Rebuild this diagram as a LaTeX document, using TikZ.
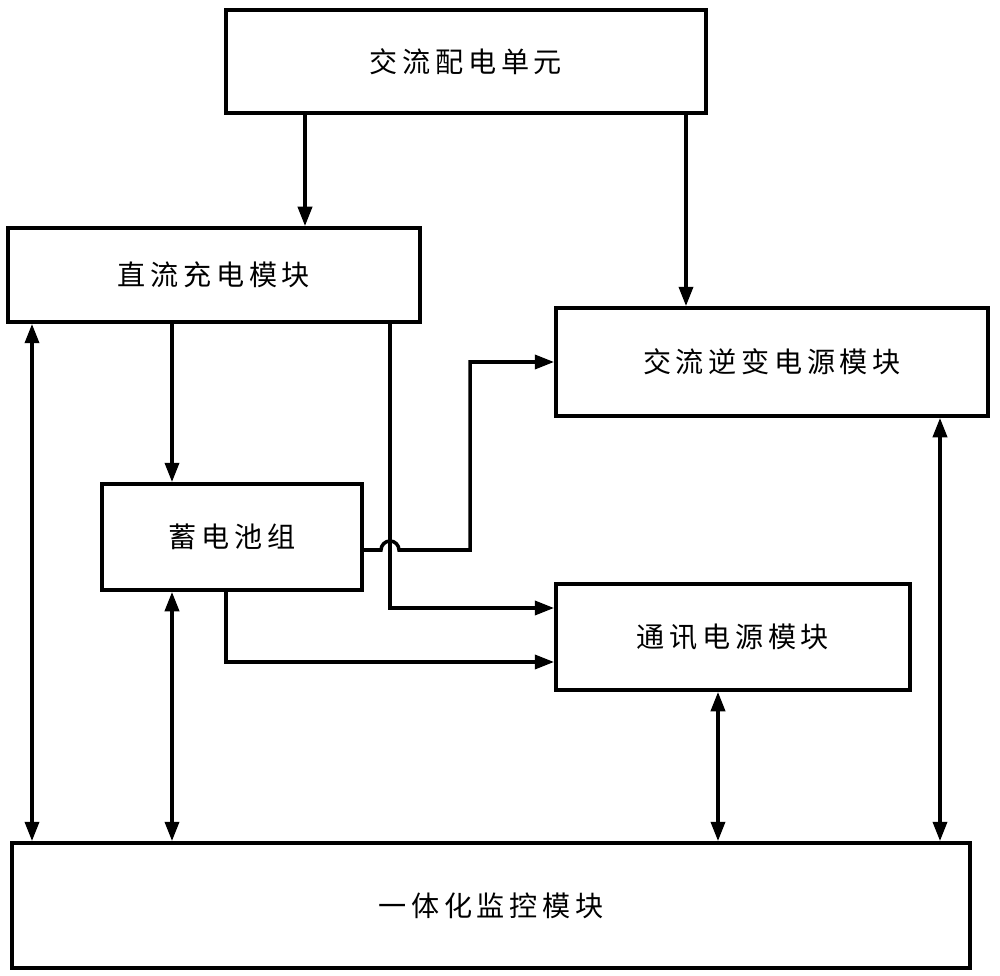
\documentclass[tikz,border=0pt]{standalone}
\usepackage{fontspec}
\newfontfamily\cjk{Noto Sans CJK SC}
\usetikzlibrary{arrows.meta}
\begin{document}
\begin{tikzpicture}[x=0.02cm,y=-0.02cm,line width=2pt,
  box/.style={draw,line width=2.2pt,inner sep=0pt,font=\cjk\fontsize{16}{19}\selectfont},
  arr/.style={-{Triangle[length=11pt,width=8pt]}},
  darr/.style={{Triangle[length=11pt,width=8pt]}-{Triangle[length=11pt,width=8pt]}}]
  \useasboundingbox (0,0) rectangle (1000,976);
  \node[box,minimum width=9.6cm,minimum height=2.06cm] (ac) at (466,61.5) {交\,流\,配\,电\,单\,元};
  \node[box,minimum width=8.24cm,minimum height=1.88cm] (dc) at (214,275) {直\,流\,充\,电\,模\,块};
  \node[box,minimum width=8.64cm,minimum height=2.16cm] (inv) at (772,362) {交\,流\,逆\,变\,电\,源\,模\,块};
  \node[box,minimum width=5.2cm,minimum height=2.12cm] (bat) at (232,537) {蓄\,电\,池\,组};
  \node[box,minimum width=7.08cm,minimum height=2.12cm] (com) at (733,637) {通\,讯\,电\,源\,模\,块};
  \node[box,minimum width=19.16cm,minimum height=2.5cm] (mon) at (491,905.5) {一\,体\,化\,监\,控\,模\,块};
  % power flow
  \draw[arr] (ac.south -| 305,0) -- (dc.north -| 305,0);
  \draw[arr] (ac.south -| 686,0) -- (inv.north -| 686,0);
  \draw[arr] (dc.south -| 172,0) -- (bat.north -| 172,0);
  \draw[arr] (dc.south -| 390,0) -- (390,608) -- (com.west |- 0,608);
  \draw[arr] (bat.east |- 0,550) -- (381,550) arc (180:360:9) -- (470,550)
    -- (470,362) -- (inv.west);
  \draw[arr] (bat.south -| 226,0) -- (226,662) -- (com.west |- 0,662);
  % monitoring links
  \draw[darr] (dc.south -| 32,0) -- (mon.north -| 32,0);
  \draw[darr] (bat.south -| 172,0) -- (mon.north -| 172,0);
  \draw[darr] (com.south -| 718,0) -- (mon.north -| 718,0);
  \draw[darr] (inv.south -| 940,0) -- (mon.north -| 940,0);
\end{tikzpicture}
\end{document}
